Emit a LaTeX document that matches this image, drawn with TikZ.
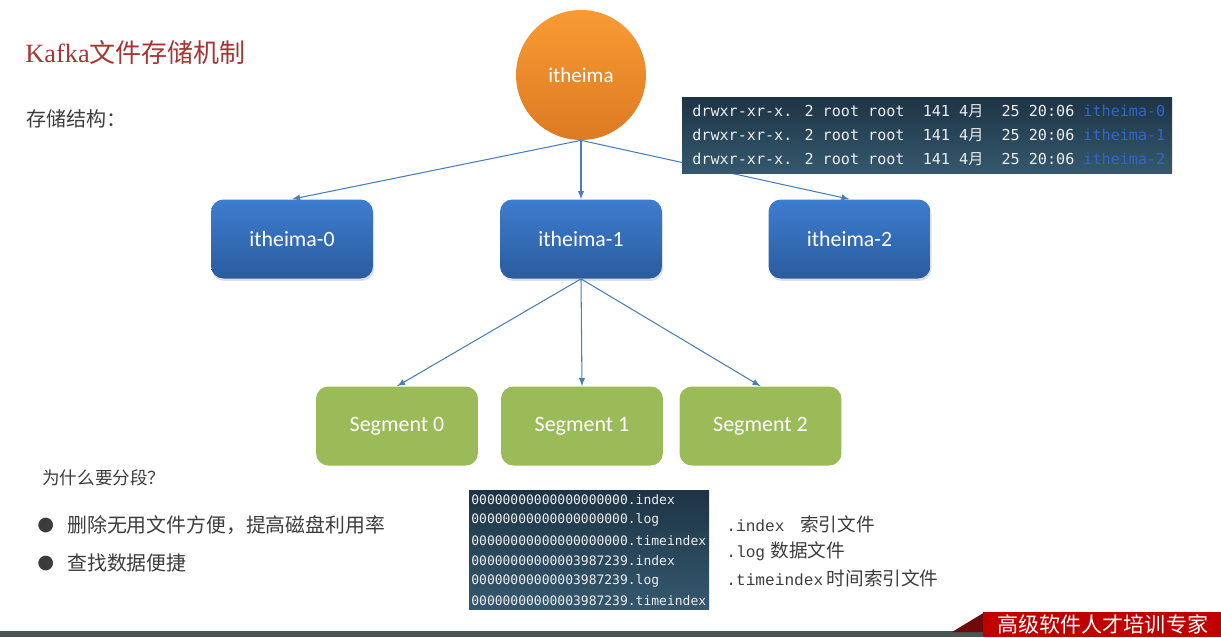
\documentclass[tikz,border=0pt]{standalone}
\usepackage{fontspec}
\setmainfont{Carlito}
\newfontfamily\cjk{Noto Sans CJK SC}
\newfontfamily\mono{DejaVu Sans Mono}
\newfontfamily\lat{Liberation Mono}
\newfontfamily\serifa{Liberation Serif}
\newfontfamily\simb{DejaVu Sans}
\usetikzlibrary{shadows}

\definecolor{laranjaclaro}{HTML}{F89B34}
\definecolor{laranjaescuro}{HTML}{DD7A22}
\definecolor{azulclaro}{HTML}{3D7DCF}
\definecolor{azulescuro}{HTML}{2B5C9E}
\definecolor{verde}{HTML}{9BBB59}
\definecolor{corseta}{HTML}{4A7EBB}
\definecolor{termtopo}{HTML}{1D3445}
\definecolor{termbase}{HTML}{35586E}
\definecolor{termtexto}{HTML}{EDEDED}
\definecolor{termazul}{HTML}{2F66D0}
\definecolor{titulo}{HTML}{A83434}
\definecolor{texto}{HTML}{3C3C3C}
\definecolor{cinza}{HTML}{4B5554}
\definecolor{vermelho}{HTML}{C00000}
\definecolor{vinho}{HTML}{6E0A0A}

\begin{document}
\begin{tikzpicture}[
    x=0.02cm, y=-0.02cm,
    % Topico (circulo laranja)
    topico/.style={circle, minimum size=2.6cm, inner sep=0pt,
        top color=laranjaclaro, bottom color=laranjaescuro,
        text=white, font=\fontsize{12pt}{14pt}\selectfont},
    % Particoes (caixas azuis)
    particao/.style={rectangle, rounded corners=7pt, minimum width=3.24cm,
        minimum height=1.58cm, top color=azulclaro, bottom color=azulescuro,
        text=white, font=\fontsize{12.4pt}{14pt}\selectfont,
        drop shadow={opacity=0.25, shadow xshift=0.6pt, shadow yshift=-1.4pt}},
    % Segmentos (caixas verdes)
    segmento/.style={rectangle, rounded corners=7pt, minimum width=3.24cm,
        minimum height=1.58cm, fill=verde,
        text=white, font=\fontsize{12.5pt}{14pt}\selectfont},
    % Setas de ligacao
    seta/.style={->, >=latex, draw=corseta, line width=0.6pt},
    % Textos do terminal
    termo/.style={anchor=west, inner sep=0pt, text=termtexto},
    % Textos comuns
    rotulo/.style={anchor=west, inner sep=0pt, text=texto,
        font=\cjk\fontsize{10.6pt}{12pt}\selectfont}
]

    \useasboundingbox (0,0) rectangle (1221,637);

    % ==========================================
    % 1. TITULO E TEXTOS
    % ==========================================
    \node[anchor=west, inner sep=0pt, text=titulo,
        font=\cjk\fontsize{14.8pt}{18pt}\selectfont] (titulo) at (25,53)
        {{\serifa\fontsize{15pt}{18pt}\selectfont Kafka}文件存储机制};
    \node[rotulo, font=\cjk\fontsize{11.4pt}{13pt}\selectfont] (estrutura) at (26,119) {存储结构：};

    % ==========================================
    % 2. ARVORE (topico, particoes, segmentos)
    % ==========================================
    \node[topico] (itheima) at (581,75) {itheima};

    \node[particao] (p0) at (292,239) {itheima-0};
    \node[particao] (p1) at (581,239) {itheima-1};
    \node[particao] (p2) at (849.5,239) {itheima-2};

    \node[segmento] (s0) at (397,426) {Segment 0};
    \node[segmento] (s1) at (582,426) {Segment 1};
    \node[segmento] (s2) at (760.5,426) {Segment 2};

    \foreach \p in {p0,p1,p2}
        \draw[seta] (itheima.south) -- (\p.north);
    \foreach \s in {s0,s1,s2}
        \draw[seta] (p1.south) -- (\s.north);

    % ==========================================
    % 3. TERMINAL (listagem das particoes)
    % ==========================================
    \fill[top color=termtopo, bottom color=termbase] (682,97) rectangle (1172,173);
    \foreach \n in {0,1,2}
        \node[termo, font=\mono\fontsize{8.6pt}{10pt}\selectfont] (ls\n) at (692,111+24*\n)
            {drwxr-xr-x. 2 root root\ \ 141 4{\cjk 月}\ \ 25 20:06 \textcolor{termazul}{itheima-\n}};

    % ==========================================
    % 4. TERMINAL (arquivos de um segmento)
    % ==========================================
    \fill[top color=termtopo, bottom color=termbase] (469,490) rectangle (709,609);
    \foreach \arq [count=\i from 0] in {00000000000000000000.index,
        00000000000000000000.log, 00000000000000000000.timeindex,
        00000000000003987239.index, 00000000000003987239.log,
        00000000000003987239.timeindex}
        \node[termo, font=\mono\fontsize{7.4pt}{9pt}\selectfont] (f\i) at (471,500+20.2*\i) {\arq};

    % Legenda dos arquivos
    \node[rotulo] (lidx) at (726,524) {{\lat\fontsize{9.2pt}{10pt}\selectfont .index}\hspace{9pt}索引文件};
    \node[rotulo] (llog) at (726,551) {{\lat\fontsize{9.2pt}{10pt}\selectfont .log}\hspace{3pt}数据文件};
    \node[rotulo] (ltim) at (726,578) {{\lat\fontsize{9.2pt}{10pt}\selectfont .timeindex}\hspace{2pt}时间索引文件};

    % ==========================================
    % 5. PORQUE SEGMENTAR
    % ==========================================
    \node[rotulo, font=\cjk\fontsize{10pt}{12pt}\selectfont] (pergunta) at (42,478) {为什么要分段？};
    \node[rotulo, font=\simb\fontsize{11pt}{12pt}\selectfont] (b1) at (37,525) {●};
    \node[rotulo, font=\simb\fontsize{11pt}{12pt}\selectfont] (b2) at (37,563) {●};
    \node[rotulo, font=\cjk\fontsize{11.3pt}{13pt}\selectfont] (motivo1) at (67,525) {删除无用文件方便，提高磁盘利用率};
    \node[rotulo, font=\cjk\fontsize{11.3pt}{13pt}\selectfont] (motivo2) at (67,563) {查找数据便捷};

    % ==========================================
    % 6. RODAPE
    % ==========================================
    \fill[cinza] (0,631) rectangle (1221,637);
    \fill[vinho] (952,632) -- (985,612) -- (985,632) -- cycle;
    \fill[vermelho] (983,612) rectangle (1221,637);
    \node[anchor=west, inner sep=0pt, text=white,
        font=\cjk\fontsize{12pt}{14pt}\selectfont] (lema) at (997,624) {高级软件人才培训专家};

\end{tikzpicture}
\end{document}
